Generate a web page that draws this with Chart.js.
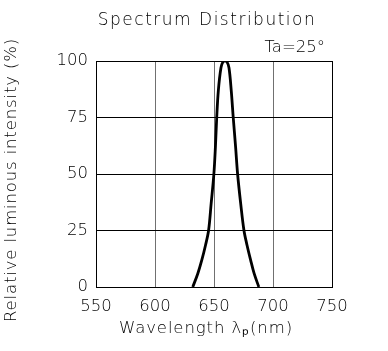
<!DOCTYPE html>
<html>
<head>
<meta charset="utf-8">
<style>
html,body{margin:0;padding:0;background:#fff;}
#wrap{width:388px;height:351px;position:relative;}
</style>
<script src="https://cdn.jsdelivr.net/npm/chart.js@4/dist/chart.umd.min.js"></script>
</head>
<body>
<div id="wrap"><canvas id="c" width="388" height="351"></canvas></div>
<script>
const wavelengths = [632, 636.3, 639.7, 642.8, 645.4, 647.6, 649.9, 651.2, 652.3, 653.7, 655.9, 657.6, 659.3, 661, 662.7, 664.6, 666.3, 668.3, 670, 672.6, 675.4, 678, 681, 684, 688];
const intensity   = [0,   6,     12,    18.5,  25,    37,    50,    62,    75,    87,    97,    99.6,  100,   99.6, 97,    87,    75,    62,    50,  37,    25,    18.5, 12,  6,   0];
const xTicks = [550, 600, 650, 700, 750];
const yTicks = [0, 25, 50, 75, 100];
const titleText = "Spectrum Distribution";
const noteText = "Ta=25°";
const xTitle = "Wavelength λₚ(nm)";
const yTitle = "Relative luminous intensity (%)";

const FONT = '"DejaVu Sans", sans-serif';
const W = '200 ';

const textPlugin = {
  id: 'texts',
  afterDraw(chart) {
    const ctx = chart.ctx;
    ctx.save();
    ctx.fillStyle = '#000';
    ctx.textBaseline = 'middle';
    ctx.textAlign = 'center';
    ctx.font = W + '17px ' + FONT;
    ctx.letterSpacing = '1.5px';
    ctx.fillText(titleText, 207, 21);
    ctx.font = W + '16.5px ' + FONT;
    ctx.letterSpacing = '0.9px';
    ctx.fillText(xTitle, 206, 329);
    ctx.letterSpacing = '0px';
    ctx.textAlign = 'right';
    ctx.fillText(noteText, 325, 48);
    ctx.translate(12, 180);
    ctx.rotate(-Math.PI / 2);
    ctx.textAlign = 'center';
    ctx.letterSpacing = '0.85px';
    ctx.fillText(yTitle, 0, 0);
    ctx.restore();
  }
};

new Chart(document.getElementById('c'), {
  type: 'line',
  data: {
    datasets: [{
      data: wavelengths.map((w, i) => ({x: w, y: intensity[i]})),
      borderColor: '#000',
      borderWidth: 2.8,
      pointRadius: 0,
      fill: false,
      tension: 0.35
    }]
  },
  options: {
    responsive: false,
    animation: false,
    layout: {padding: {left: 0, right: 56, top: 61, bottom: 0}},
    plugins: {legend: {display: false}, tooltip: {enabled: false}, title: {display: false}},
    scales: {
      x: {
        type: 'linear', min: 550, max: 750,
        afterBuildTicks(s) { s.ticks = xTicks.map(v => ({value: v})); },
        afterFit(s) { s.height = 64; },
        grid: {color: '#707070', lineWidth: 1, drawTicks: false},
        border: {color: '#000', width: 1},
        ticks: {color: '#000', font: {family: FONT, size: 16.5, weight: 200}, padding: 10, maxRotation: 0}
      },
      y: {
        type: 'linear', min: 0, max: 100,
        afterBuildTicks(s) { s.ticks = yTicks.map(v => ({value: v})); },
        afterFit(s) { s.width = 96; },
        grid: {color: '#000', lineWidth: 1, drawTicks: false},
        border: {color: '#000', width: 1},
        ticks: {color: '#000', font: {family: FONT, size: 16.5, weight: 200}, padding: 8}
      }
    }
  },
  plugins: [textPlugin, {
    id: 'frame',
    afterDatasetsDraw(chart) {
      const a = chart.chartArea, ctx = chart.ctx;
      ctx.save();
      ctx.strokeStyle = '#000';
      ctx.lineWidth = 1;
      ctx.strokeRect(Math.round(a.left) + 0.5, Math.round(a.top) + 0.5, Math.round(a.right - a.left), Math.round(a.bottom - a.top));
      ctx.restore();
    }
  }]
});
</script>
</body>
</html>
